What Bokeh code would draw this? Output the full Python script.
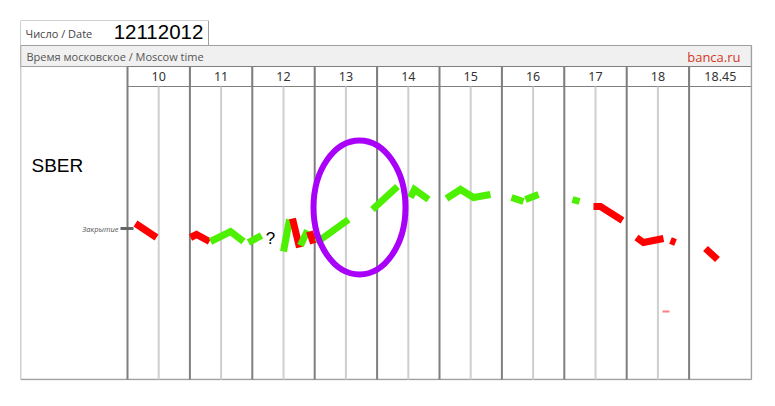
from bokeh.plotting import figure
from bokeh.models import Range1d
from bokeh.core.properties import value
from bokeh.embed import file_html
from bokeh.resources import INLINE

# ---------------- data ----------------
date_text = "12112012"
ticker = "SBER"
hour_labels = ["10", "11", "12", "13", "14", "15", "16", "17", "18", "18.45"]
hour_starts = [10, 11, 12, 13, 14, 15, 16, 17, 18, 19]   # slot position of each column

# price path strokes: x = session slot position (hours), y = change vs close, %
seg_x = [
    [10.128, 10.465],
    [11.010, 11.106, 11.314],
    [11.330, 11.651, 11.859],
    [11.939, 12.147],
    [12.500, 12.596],
    [12.644, 12.756],
    [12.772, 12.885],
    [12.917, 12.981],
    [13.030, 13.542],
    [13.926, 14.327],
    [14.535, 14.599, 14.824],
    [15.112, 15.337, 15.545, 15.817],
    [16.154, 16.346],
    [16.378, 16.587],
    [17.131, 17.244],
    [17.468, 17.580, 17.933],
    [18.157, 18.269, 18.590],
    [18.702, 18.782],
    [19.263, 19.455],
]
seg_y = [
    [0.10, -0.18],
    [-0.18, -0.12, -0.26],
    [-0.26, -0.06, -0.26],
    [-0.28, -0.14],
    [-0.46, 0.18],
    [0.20, -0.38],
    [-0.34, -0.04],
    [-0.06, -0.30],
    [-0.28, 0.18],
    [0.38, 0.84],
    [0.62, 0.78, 0.58],
    [0.60, 0.78, 0.62, 0.68],
    [0.62, 0.54],
    [0.58, 0.68],
    [0.58, 0.54],
    [0.44, 0.44, 0.16],
    [-0.18, -0.28, -0.20],
    [-0.24, -0.28],
    [-0.40, -0.62],
]
seg_dir = ["down", "down", "up", "up", "up", "down", "up", "down", "up", "up",
           "up", "up", "up", "up", "up", "down", "down", "down", "down"]

mark_x = [18.574, 18.686]      # faint marker
mark_y = [-1.66, -1.66]

question_x, question_y = 12.29, -0.20
circle_x, circle_y, circle_w, circle_h = 13.718, 0.42, 1.474, 2.68

# ---------------- layout helpers ----------------
PX0, PXH = 127.0, 62.4      # page px of 10:00, px per hour
PY0, PYU = 228.0, 50.0      # page py of close level, px per 1 %


def hx(px):
    return 10 + (px - PX0) / PXH


def vy(py):
    return (PY0 - py) / PYU


W, H = 768, 398
p = figure(width=W, height=H, output_backend="svg", toolbar_location=None,
           x_axis_type=None, y_axis_type=None,
           x_range=Range1d(hx(20), hx(752)), y_range=Range1d(vy(380), vy(20)),
           min_border_left=20, min_border_right=16, min_border_top=20, min_border_bottom=18)
p.outline_line_color = None
p.background_fill_color = "white"
p.border_fill_color = "white"

GRID_DARK = "#7f7f7f"
GRID_LIGHT = "#cfcfcf"
BORDER = "#a0a0a0"

# date box
p.quad(left=[hx(20)], right=[hx(208)], top=[vy(20)], bottom=[vy(45)],
       fill_color="white", line_color=BORDER, line_width=1)
# header bar
p.quad(left=[hx(20)], right=[hx(751)], top=[vy(45)], bottom=[vy(66)],
       fill_color="#f0f0f0", line_color=BORDER, line_width=1)
# hour row boxes
hour_row_top, hour_row_bot = vy(66), vy(86)
p.quad(left=[h for h in hour_starts], right=[h + 1 for h in hour_starts],
       top=[hour_row_top] * len(hour_starts), bottom=[hour_row_bot] * len(hour_starts),
       fill_color="white", line_color=GRID_DARK, line_width=1)

# outer border of body
p.segment(x0=[hx(20), hx(20), hx(751)], y0=[vy(45), vy(379), vy(45)],
          x1=[hx(20), hx(751), hx(751)], y1=[vy(379), vy(379), vy(379)],
          line_color=BORDER, line_width=1.5)

# half-hour lines
halves = [h + 0.5 for h in hour_starts[:-1]]
p.segment(x0=halves, y0=[hour_row_bot] * len(halves), x1=halves, y1=[vy(379)] * len(halves),
          line_color=GRID_LIGHT, line_width=2)
# hour lines
p.segment(x0=hour_starts, y0=[hour_row_top] * len(hour_starts), x1=hour_starts,
          y1=[vy(379)] * len(hour_starts), line_color=GRID_DARK, line_width=2)

# hour labels
p.text(x=[h + 0.5 for h in hour_starts], y=[vy(76)] * len(hour_starts), text=hour_labels,
       text_align="center", text_baseline="middle", text_font=value("Noto Sans"),
       text_font_size="12.5px", text_color="#333333")

# header texts
p.text(x=[hx(25)], y=[vy(33)], text=["Число / Date"], text_align="left", text_baseline="middle",
       text_font=value("Open Sans"), text_font_size="11px", text_color="#444444")
p.text(x=[hx(158)], y=[vy(31)], text=[date_text], text_align="center", text_baseline="middle",
       text_font=value("Liberation Sans"), text_font_size="20.5px", text_color="black")
p.text(x=[hx(26)], y=[vy(56)], text=["Время московское / Moscow time"], text_align="left",
       text_baseline="middle", text_font=value("Open Sans"), text_font_size="11px",
       text_color="#555555")
p.text(x=[hx(740)], y=[vy(56)], text=["banca.ru"], text_align="right", text_baseline="middle",
       text_font=value("Open Sans"), text_font_size="13px", text_color="#d4361e")

# ticker and close label
p.text(x=[hx(31)], y=[vy(165)], text=[ticker], text_align="left", text_baseline="middle",
       text_font=value("Liberation Sans"), text_font_size="19px", text_color="black")
p.text(x=[hx(118)], y=[0], text=["Закрытие"], text_align="right", text_baseline="middle",
       text_font=value("Open Sans"), text_font_style="italic", text_font_size="7.5px",
       text_color="#555555")
p.segment(x0=[hx(120)], y0=[0], x1=[hx(133)], y1=[0], line_color="#666666", line_width=3)

# price path
colors = ["#4cf000" if d == "up" else "#ff0000" for d in seg_dir]
p.multi_line(xs=seg_x, ys=seg_y, line_color=colors, line_width=7, line_join="miter",
             line_cap="butt")
p.line(mark_x, mark_y, line_color="#ff8080", line_width=2)

p.text(x=[question_x], y=[question_y], text=["?"], text_align="center", text_baseline="middle",
       text_font=value("Liberation Sans"), text_font_size="17px", text_color="black")

p.ellipse(x=[circle_x], y=[circle_y], width=[circle_w], height=[circle_h],
          fill_color=None, line_color="#a800f8", line_width=6)

open("out.html", "w").write(file_html(p, INLINE))
